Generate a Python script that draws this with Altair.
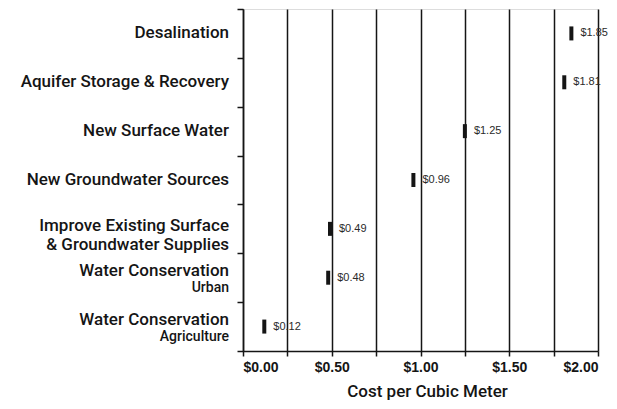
import altair as alt
import pandas as pd

categories = [
    "Desalination",
    "Aquifer Storage & Recovery",
    "New Surface Water",
    "New Groundwater Sources",
    "Improve Existing Surface & Groundwater Supplies",
    "Water Conservation Urban",
    "Water Conservation Agriculture",
]
main_labels = [
    "Desalination",
    "Aquifer Storage & Recovery",
    "New Surface Water",
    "New Groundwater Sources",
    "Improve Existing Surface\n& Groundwater Supplies",
    "Water Conservation",
    "Water Conservation",
]
sub_labels = ["", "", "", "", "", "Urban", "Agriculture"]
costs = [1.85, 1.81, 1.25, 0.96, 0.49, 0.48, 0.12]
x_ticks = [0, 0.25, 0.5, 0.75, 1.0, 1.25, 1.5, 1.75, 2.0]

df = pd.DataFrame({"cat": categories, "main": main_labels, "sub": sub_labels, "cost": costs})

FONT = "Liberation Sans"
LFONT = "Roboto"
INK = "#151515"

y_enc = alt.Y(
    "cat:N",
    sort=categories,
    scale=alt.Scale(paddingInner=0, paddingOuter=0),
    axis=alt.Axis(
        labels=False, title=None, tickBand="extent", tickSize=6,
        tickColor=INK, domainColor=INK, tickWidth=1.5, domainWidth=1.5, grid=False,
    ),
)
x_enc = alt.X(
    "cost:Q",
    scale=alt.Scale(domain=[0, 2], nice=False),
    axis=alt.Axis(
        values=x_ticks,
        labelExpr="datum.value % 0.5 == 0 ? '$' + format(datum.value, '.2f') : ''",
        title="Cost per Cubic Meter",
        titleFont=LFONT, titleFontSize=17, titleFontWeight=500, titleColor=INK,
        titlePadding=9, titleX=184,
        labelFont=FONT, labelFontSize=14, labelFontWeight="bold", labelColor=INK,
        labelPadding=4, tickSize=5, tickColor=INK, tickWidth=1.5,
        domainColor=INK, domainWidth=1.5,
        grid=True, gridColor=INK, gridWidth=1.5, gridOpacity=1,
    ),
)

base = alt.Chart(df)

ticks = base.mark_tick(color=INK, opacity=1, thickness=4, size=14, orient="vertical").encode(x=x_enc, y=y_enc)

values_text = base.mark_text(
    align="left", baseline="middle", dx=9, font=FONT, fontSize=11, color="#2a2a2a"
).transform_calculate(lbl="'$' + format(datum.cost, '.2f')").encode(
    x="cost:Q", y=alt.Y("cat:N", sort=categories), text="lbl:N"
)

single = base.mark_text(
    align="right", baseline="middle", dy=-3, font=LFONT, fontSize=17, fontWeight=500,
    color=INK, lineBreak="\n", lineHeight=19,
).transform_filter("datum.sub == ''").transform_filter("indexof(datum.main, '\\n') >= 0").encode(
    x=alt.value(-14), y=alt.Y("cat:N", sort=categories), text="main:N"
)

single_one = base.mark_text(
    align="right", baseline="middle", font=LFONT, fontSize=17, fontWeight=500, color=INK,
).transform_filter("datum.sub == ''").transform_filter("indexof(datum.main, '\\n') < 0").encode(
    x=alt.value(-14), y=alt.Y("cat:N", sort=categories), text="main:N"
)

main_with_sub = base.mark_text(
    align="right", baseline="middle", dy=-7, font=LFONT, fontSize=17, fontWeight=500, color=INK,
).transform_filter("datum.sub != ''").encode(
    x=alt.value(-14), y=alt.Y("cat:N", sort=categories), text="main:N"
)

sub = base.mark_text(
    align="right", baseline="middle", dy=10, font=LFONT, fontSize=14, fontWeight=500, color=INK,
).transform_filter("datum.sub != ''").encode(
    x=alt.value(-14), y=alt.Y("cat:N", sort=categories), text="sub:N"
)

chart = alt.layer(ticks, values_text, single, single_one, main_with_sub, sub).properties(
    width=355, height=342,
    autosize=alt.AutoSizeParams(type="none"),
    padding={"left": 235, "top": 1, "right": 10, "bottom": 55},
).configure_view(strokeWidth=0).configure(background="white")

chart.save("out.html", embed_options={"renderer": "svg", "actions": False})
